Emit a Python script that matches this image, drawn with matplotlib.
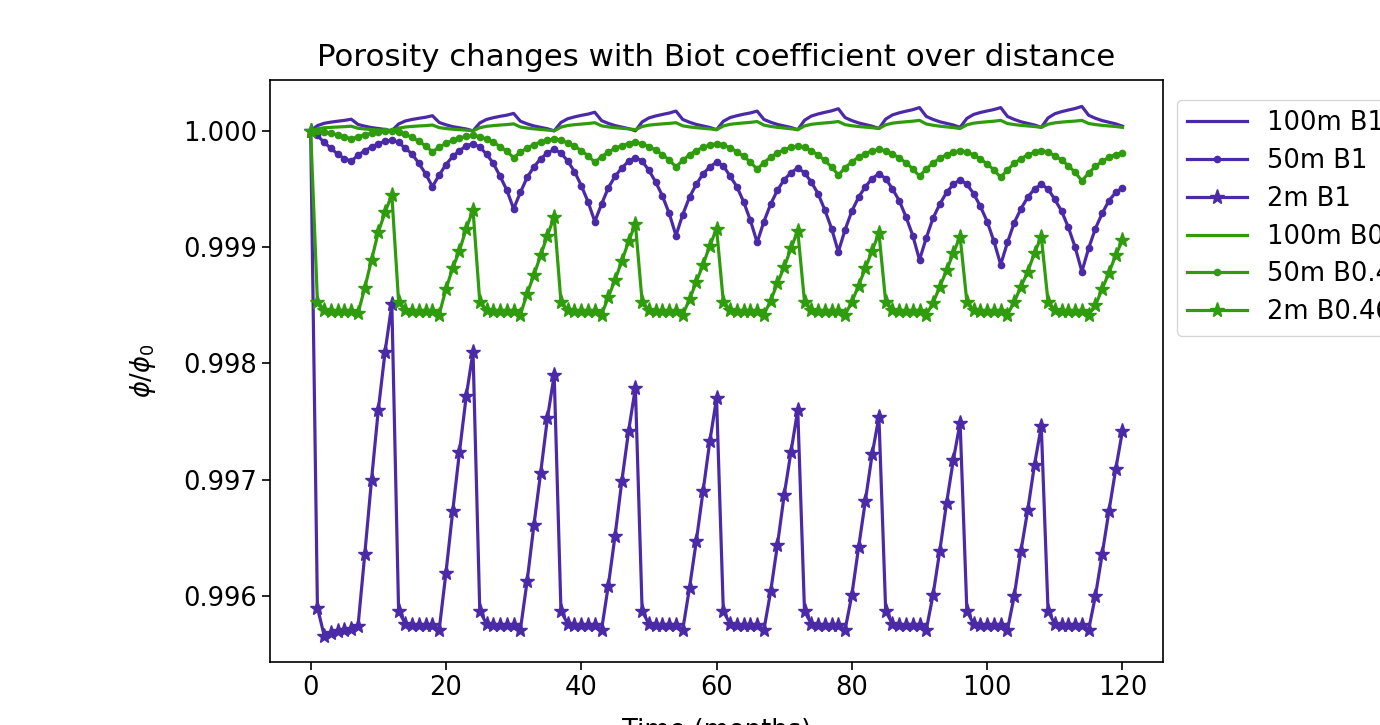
import matplotlib
matplotlib.use("Agg")
import matplotlib.pyplot as plt
import numpy as np

months = np.arange(0, 121)

# 100m, Biot coefficient 1
phi_100m_b1 = [
    1.0, 1.000045, 1.000065, 1.000075, 1.000083, 1.00009, 1.0001, 1.000055, 1.00004, 1.000028, 1.00002, 1.000012,
    1.0, 1.000059, 1.000085, 1.000098, 1.000108, 1.000117, 1.00013, 1.000072, 1.000052, 1.000036, 1.000026, 1.000016,
    1.0, 1.000068, 1.000098, 1.000113, 1.000125, 1.000135, 1.00015, 1.000083, 1.00006, 1.000042, 1.00003, 1.000018,
    1.0, 1.000072, 1.000104, 1.00012, 1.000133, 1.000144, 1.00016, 1.000088, 1.000064, 1.000045, 1.000032, 1.000019,
    1.0, 1.000077, 1.000111, 1.000128, 1.000141, 1.000153, 1.00017, 1.000098, 1.000074, 1.000055, 1.000042, 1.000029,
    1.00001, 1.000082, 1.000114, 1.00013, 1.000143, 1.000154, 1.00017, 1.000098, 1.000074, 1.000055, 1.000042, 1.000029,
    1.00001, 1.000091, 1.000127, 1.000145, 1.000159, 1.000172, 1.00019, 1.000114, 1.000088, 1.000068, 1.000054, 1.00004,
    1.00002, 1.000101, 1.000137, 1.000155, 1.000169, 1.000182, 1.0002, 1.000124, 1.000098, 1.000078, 1.000064, 1.00005,
    1.00003, 1.000107, 1.000141, 1.000158, 1.000171, 1.000183, 1.0002, 1.000124, 1.000098, 1.000078, 1.000064, 1.00005,
    1.00003, 1.000111, 1.000147, 1.000165, 1.000179, 1.000192, 1.00021, 1.000134, 1.000108, 1.000088, 1.000074, 1.00006,
    1.00004,
]

# 50m, Biot coefficient 1
phi_50m_b1 = [
    1.0, 0.99996, 0.9999, 0.99985, 0.9998, 0.99976, 0.99974, 0.99979, 0.99983, 0.99986, 0.99989, 0.99991,
    0.99992, 0.9999, 0.99985, 0.9998, 0.99972, 0.99963, 0.99952, 0.99962, 0.99971, 0.99978, 0.99983, 0.99987,
    0.99989, 0.99986, 0.9998, 0.99972, 0.99961, 0.99949, 0.99933, 0.99947, 0.9996, 0.99969, 0.99976, 0.99981,
    0.99984, 0.99981, 0.99974, 0.99965, 0.99953, 0.99939, 0.99922, 0.99937, 0.99951, 0.99961, 0.99968, 0.99974,
    0.99977, 0.99974, 0.99966, 0.99956, 0.99944, 0.99929, 0.9991, 0.99928, 0.99943, 0.99954, 0.99963, 0.99969,
    0.99973, 0.9997, 0.99961, 0.99952, 0.99939, 0.99923, 0.99904, 0.99922, 0.99937, 0.99949, 0.99958, 0.99964,
    0.99968, 0.99964, 0.99956, 0.99946, 0.99932, 0.99916, 0.99896, 0.99915, 0.99931, 0.99943, 0.99952, 0.99959,
    0.99963, 0.99959, 0.9995, 0.9994, 0.99926, 0.9991, 0.99889, 0.99908, 0.99925, 0.99937, 0.99947, 0.99954,
    0.99958, 0.99954, 0.99946, 0.99935, 0.99922, 0.99905, 0.99885, 0.99904, 0.99921, 0.99933, 0.99943, 0.9995,
    0.99954, 0.9995, 0.99941, 0.99931, 0.99917, 0.999, 0.99879, 0.99899, 0.99916, 0.99929, 0.9994, 0.99947,
    0.99951,
]

# 2m, Biot coefficient 1
phi_2m_b1 = [
    1.0, 0.9959, 0.99566, 0.99568, 0.9957, 0.99571, 0.99572, 0.99574, 0.99636, 0.997, 0.9976, 0.9981,
    0.99851, 0.99587, 0.99576, 0.99575, 0.99575, 0.99575, 0.99575, 0.99571, 0.9962, 0.99673, 0.99724, 0.99772,
    0.9981, 0.99587, 0.99576, 0.99575, 0.99575, 0.99575, 0.99575, 0.99571, 0.99613, 0.99661, 0.99706, 0.99753,
    0.9979, 0.99587, 0.99576, 0.99575, 0.99575, 0.99575, 0.99575, 0.99571, 0.99609, 0.99652, 0.99699, 0.99742,
    0.99779, 0.99587, 0.99576, 0.99575, 0.99575, 0.99575, 0.99575, 0.99571, 0.99607, 0.99647, 0.9969, 0.99733,
    0.9977, 0.99587, 0.99576, 0.99575, 0.99575, 0.99575, 0.99575, 0.99571, 0.99604, 0.99644, 0.99687, 0.99724,
    0.9976, 0.99587, 0.99576, 0.99575, 0.99575, 0.99575, 0.99575, 0.99571, 0.99601, 0.99642, 0.99682, 0.99722,
    0.99754, 0.99587, 0.99576, 0.99575, 0.99575, 0.99575, 0.99575, 0.99571, 0.99601, 0.99639, 0.9968, 0.99717,
    0.99749, 0.99587, 0.99576, 0.99575, 0.99575, 0.99575, 0.99575, 0.99571, 0.996, 0.99639, 0.99674, 0.99713,
    0.99746, 0.99587, 0.99576, 0.99575, 0.99575, 0.99575, 0.99575, 0.99571, 0.996, 0.99636, 0.99673, 0.99709,
    0.99742,
]

# 100m, Biot coefficient 0.46
phi_100m_b046 = [
    1.0, 1.000018, 1.000026, 1.00003, 1.000033, 1.000036, 1.00004, 1.000022, 1.000016, 1.000011, 1.000008, 1.000005,
    1.0, 1.000023, 1.000033, 1.000038, 1.000042, 1.000045, 1.00005, 1.000028, 1.00002, 1.000014, 1.00001, 1.000006,
    1.0, 1.000027, 1.000039, 1.000045, 1.00005, 1.000054, 1.00006, 1.000033, 1.000024, 1.000017, 1.000012, 1.000007,
    1.0, 1.000032, 1.000046, 1.000053, 1.000058, 1.000063, 1.00007, 1.000043, 1.000034, 1.000027, 1.000022, 1.000017,
    1.00001, 1.000037, 1.000049, 1.000055, 1.00006, 1.000064, 1.00007, 1.000043, 1.000034, 1.000027, 1.000022, 1.000017,
    1.00001, 1.000042, 1.000056, 1.000063, 1.000068, 1.000073, 1.00008, 1.000049, 1.000038, 1.00003, 1.000024, 1.000018,
    1.00001, 1.000042, 1.000056, 1.000063, 1.000068, 1.000073, 1.00008, 1.000053, 1.000044, 1.000037, 1.000032, 1.000027,
    1.00002, 1.000052, 1.000066, 1.000073, 1.000078, 1.000083, 1.00009, 1.000059, 1.000048, 1.00004, 1.000034, 1.000028,
    1.00002, 1.000052, 1.000066, 1.000073, 1.000078, 1.000083, 1.00009, 1.000063, 1.000054, 1.000047, 1.000042, 1.000037,
    1.00003, 1.000057, 1.000069, 1.000075, 1.00008, 1.000084, 1.00009, 1.000063, 1.000054, 1.000047, 1.000042, 1.000037,
    1.00003,
]

# 50m, Biot coefficient 0.46
phi_50m_b046 = [
    1.0, 0.999996, 0.999988, 0.999978, 0.999965, 0.99995, 0.99993, 0.99995, 0.999966, 0.999979, 0.999989, 0.999996,
    1.0, 0.999991, 0.999969, 0.999944, 0.99991, 0.99987, 0.99982, 0.999859, 0.999893, 0.999918, 0.999938, 0.999952,
    0.99996, 0.999951, 0.999928, 0.999901, 0.999865, 0.999823, 0.99977, 0.999815, 0.999853, 0.999882, 0.999904, 0.99992,
    0.99993, 0.99992, 0.999896, 0.999868, 0.99983, 0.999786, 0.99973, 0.999778, 0.999818, 0.999849, 0.999873, 0.99989,
    0.9999, 0.99989, 0.999864, 0.999835, 0.999795, 0.999749, 0.99969, 0.999746, 0.999794, 0.99983, 0.999858, 0.999878,
    0.99989, 0.999879, 0.999853, 0.999822, 0.99978, 0.999732, 0.99967, 0.999726, 0.999774, 0.99981, 0.999838, 0.999858,
    0.99987, 0.999858, 0.999828, 0.999793, 0.999745, 0.99969, 0.99962, 0.999682, 0.999734, 0.999774, 0.999805, 0.999827,
    0.99984, 0.999829, 0.999801, 0.999769, 0.999725, 0.999674, 0.99961, 0.999672, 0.999724, 0.999764, 0.999795, 0.999817,
    0.99983, 0.999819, 0.999791, 0.999759, 0.999715, 0.999664, 0.9996, 0.999664, 0.99972, 0.999761, 0.999793, 0.999816,
    0.99983, 0.999817, 0.999786, 0.999749, 0.9997, 0.999643, 0.99957, 0.999637, 0.999695, 0.999738, 0.999772, 0.999796,
    0.99981,
]

# 2m, Biot coefficient 0.46
phi_2m_b046 = [
    1.0, 0.99853, 0.99846, 0.99845, 0.99845, 0.99845, 0.99845, 0.99843, 0.99865, 0.99889, 0.99913, 0.9993,
    0.99945, 0.99853, 0.99846, 0.99845, 0.99845, 0.99845, 0.99845, 0.99842, 0.99864, 0.99882, 0.99897, 0.99916,
    0.99932, 0.99853, 0.99846, 0.99845, 0.99845, 0.99845, 0.99845, 0.99842, 0.9986, 0.99876, 0.99893, 0.9991,
    0.99926, 0.99853, 0.99846, 0.99845, 0.99845, 0.99845, 0.99845, 0.99842, 0.99857, 0.99872, 0.99888, 0.99905,
    0.9992, 0.99853, 0.99846, 0.99845, 0.99845, 0.99845, 0.99845, 0.99842, 0.99855, 0.9987, 0.99885, 0.99901,
    0.99916, 0.99853, 0.99846, 0.99845, 0.99845, 0.99845, 0.99845, 0.99842, 0.99854, 0.99869, 0.99883, 0.99899,
    0.99914, 0.99853, 0.99846, 0.99845, 0.99845, 0.99845, 0.99845, 0.99842, 0.99853, 0.99867, 0.99882, 0.99897,
    0.99912, 0.99853, 0.99846, 0.99845, 0.99845, 0.99845, 0.99845, 0.99842, 0.99852, 0.99866, 0.9988, 0.99895,
    0.99909, 0.99853, 0.99846, 0.99845, 0.99845, 0.99845, 0.99845, 0.99842, 0.99853, 0.99866, 0.99879, 0.99895,
    0.99909, 0.99853, 0.99846, 0.99845, 0.99845, 0.99845, 0.99845, 0.99842, 0.9985, 0.99864, 0.99878, 0.99893,
    0.99906,
]

purple = "#4b2aa8"
green = "#2e9c0c"

plt.rcParams["font.family"] = "DejaVu Sans"
plt.rcParams["font.size"] = 18.5

fig = plt.figure(figsize=(13.8, 7.25), dpi=100)
ax = fig.add_axes([0.1957, 0.0869, 0.6471, 0.8028])

ax.plot(months, phi_100m_b1, color=purple, lw=2.3, label="100m B1")
ax.plot(months, phi_50m_b1, color=purple, lw=2.3, marker=".", ms=9, label="50m B1")
ax.plot(months, phi_2m_b1, color=purple, lw=2.3, marker="*", ms=11, label="2m B1")
ax.plot(months, phi_100m_b046, color=green, lw=2.3, label="100m B0.46")
ax.plot(months, phi_50m_b046, color=green, lw=2.3, marker=".", ms=9, label="50m B0.46")
ax.plot(months, phi_2m_b046, color=green, lw=2.3, marker="*", ms=11, label="2m B0.46")

ax.set_xticks([0, 20, 40, 60, 80, 100, 120])
ax.set_yticks([0.996, 0.997, 0.998, 0.999, 1.000])
ax.set_yticklabels(["0.996", "0.997", "0.998", "0.999", "1.000"])
ax.tick_params(length=6, width=1.2)
for s in ax.spines.values():
    s.set_linewidth(1.2)

ax.set_title("Porosity changes with Biot coefficient over distance", pad=10)
ax.set_xlabel("Time (months)", labelpad=12)
ax.set_ylabel(r"$\phi/\phi_0$", labelpad=18)
ax.legend(loc="upper left", bbox_to_anchor=(1.0, 0.99), borderaxespad=0.55,
          handlelength=2.3, labelspacing=0.46)

fig.savefig("out.png", dpi=100)
